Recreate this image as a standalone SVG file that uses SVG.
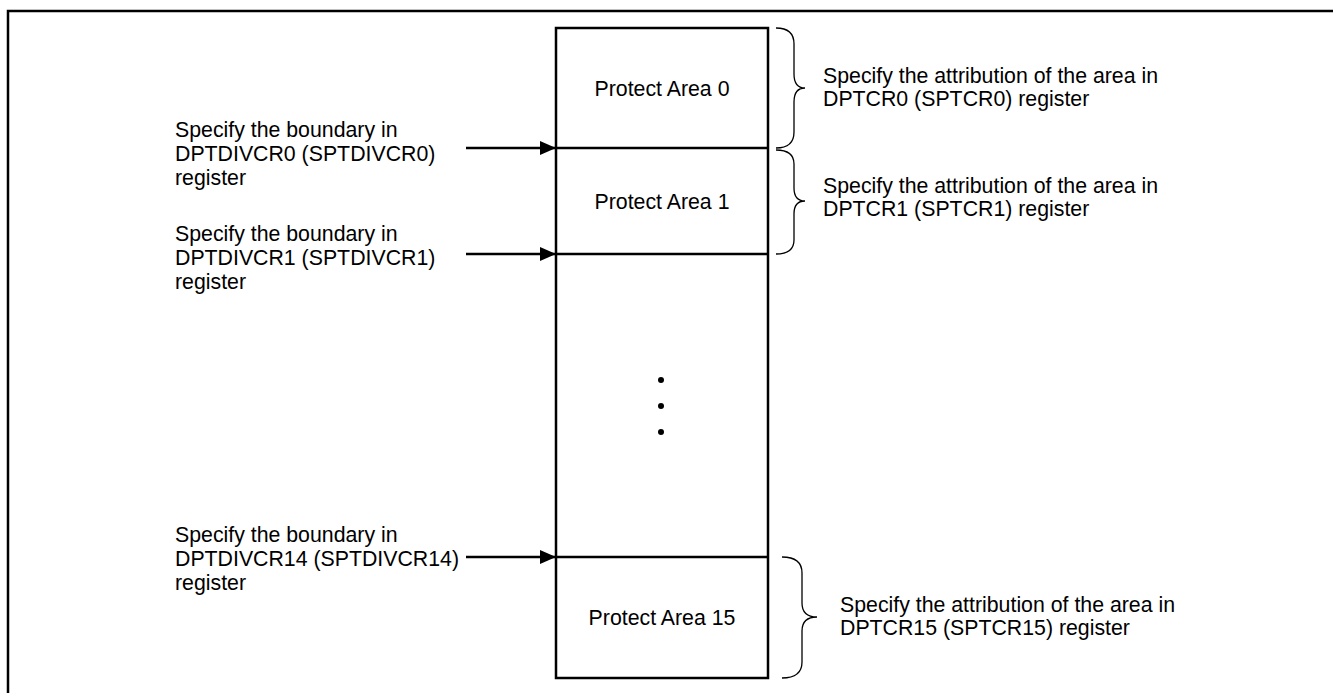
<svg xmlns="http://www.w3.org/2000/svg" width="1333" height="693" viewBox="0 0 1333 693">
<defs>
<style>
text{font-family:"Liberation Sans",Arial,sans-serif;font-size:21.3px;fill:#000}
.c{text-anchor:middle}
.ln{stroke:#000;stroke-width:2.5;fill:none}
.br{stroke:#000;stroke-width:1.3;fill:none}
</style>
<marker id="ah" markerWidth="16" markerHeight="14" refX="16" refY="7" orient="auto" markerUnits="userSpaceOnUse">
<path d="M0,0 L16,7 L0,14 Z" fill="#000"/>
</marker>
</defs>
<rect width="1333" height="693" fill="#fff"/>
<path class="ln" d="M8,693 V11 H1333" stroke-width="3"/>

<g id="memory">
<rect class="ln" x="556" y="28" width="212" height="650"/>
<line class="ln" x1="556" y1="148" x2="768" y2="148"/>
<line class="ln" x1="556" y1="254" x2="768" y2="254"/>
<line class="ln" x1="556" y1="557" x2="768" y2="557"/>
</g>
<g id="area0"><text class="c" x="662" y="96">Protect Area 0</text></g>
<g id="area1"><text class="c" x="662" y="209">Protect Area 1</text></g>
<g id="dots">
<circle cx="661" cy="380" r="3"/>
<circle cx="661" cy="406" r="3"/>
<circle cx="661" cy="432" r="3"/>
</g>
<g id="area15"><text class="c" x="662" y="625">Protect Area 15</text></g>

<g id="label-div0">
<text x="175" y="137">Specify the boundary in</text>
<text x="175" y="161">DPTDIVCR0 (SPTDIVCR0)</text>
<text x="175" y="185">register</text>
</g>
<g id="label-div1">
<text x="175" y="241">Specify the boundary in</text>
<text x="175" y="265">DPTDIVCR1 (SPTDIVCR1)</text>
<text x="175" y="289">register</text>
</g>
<g id="label-div14">
<text x="175" y="542">Specify the boundary in</text>
<text x="175" y="566">DPTDIVCR14 (SPTDIVCR14)</text>
<text x="175" y="590">register</text>
</g>

<g id="connectors">
<line class="ln" x1="466" y1="148" x2="556" y2="148" marker-end="url(#ah)"/>
<line class="ln" x1="466" y1="254" x2="556" y2="254" marker-end="url(#ah)"/>
<line class="ln" x1="466" y1="557" x2="556" y2="557" marker-end="url(#ah)"/>
<path class="br" d="M776,28 Q794,28 794,44 V74 Q794,88 805,88 Q794,88 794,102 V132 Q794,148 776,148"/>
<path class="br" d="M776,150 Q794,150 794,164 V188 Q794,201 805,201 Q794,201 794,214 V240 Q794,254 776,254"/>
<path class="br" d="M782,557 Q802,557 802,573 V603 Q802,617 817,617 Q802,617 802,631 V662 Q802,678 782,678"/>
</g>

<g id="label-cr0">
<text x="823" y="83">Specify the attribution of the area in</text>
<text x="823" y="106">DPTCR0 (SPTCR0) register</text>
</g>
<g id="label-cr1">
<text x="823" y="193">Specify the attribution of the area in</text>
<text x="823" y="216">DPTCR1 (SPTCR1) register</text>
</g>
<g id="label-cr15">
<text x="840" y="612">Specify the attribution of the area in</text>
<text x="840" y="635">DPTCR15 (SPTCR15) register</text>
</g>
</svg>
